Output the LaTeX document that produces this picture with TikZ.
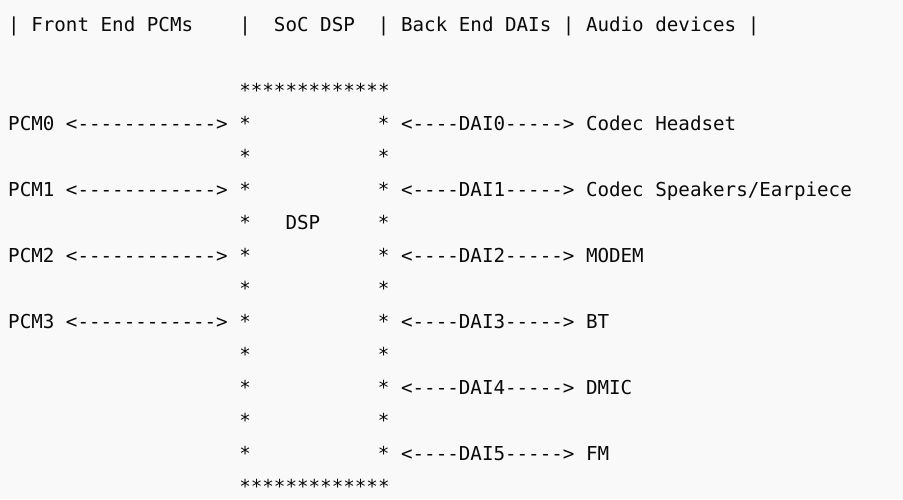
\documentclass[tikz,border=0pt]{standalone}
\usepackage{fontspec}
\setmonofont{DejaVu Sans Mono}
\definecolor{paper}{RGB}{249,249,249}
\definecolor{ink}{RGB}{10,10,10}

\begin{document}
\begin{tikzpicture}[x=11.556pt, y=-33pt,
        txt/.style = {anchor=base west, inner sep=0pt, outer sep=0pt, text=ink,
                      font=\ttfamily\fontsize{19.2}{20}\selectfont}]
        \fill[paper] (-8.2pt,31pt) rectangle (894.8pt,-468pt);
        \useasboundingbox (-8.2pt,31pt) rectangle (894.8pt,-468pt);
        % header row
        \node[txt] (bar0) at (0,0) {|};
        \node[txt] (fe) at (2,0) {Front End PCMs};
        \node[txt] (bar1) at (20,0) {|};
        \node[txt] (soc) at (23,0) {SoC DSP};
        \node[txt] (bar2) at (32,0) {|};
        \node[txt] (be) at (34,0) {Back End DAIs};
        \node[txt] (bar3) at (48,0) {|};
        \node[txt] (dev) at (50,0) {Audio devices};
        \node[txt] (bar4) at (64,0) {|};
        % DSP box made of stars
        \node[txt] (top) at (20,2) {*************};
        \node[txt] (bot) at (20,14) {*************};
        \foreach \r in {3,...,13} {
            \node[txt] (l\r) at (20,\r) {*};
            \node[txt] (r\r) at (32,\r) {*};
        }
        \node[txt] (dsp) at (24,6) {DSP};
        % front end PCMs
        \foreach \i/\r in {0/3, 1/5, 2/7, 3/9} {
            \node[txt] (pcm\i) at (0,\r) {PCM\i};
            \node[txt] (fa\i) at (5,\r) {<------------>};
        }
        % back end DAIs and devices
        \foreach \i/\r/\d in {0/3/{Codec Headset}, 1/5/{Codec Speakers/Earpiece},
                              2/7/MODEM, 3/9/BT, 4/11/DMIC, 5/13/FM} {
            \node[txt] (dai\i) at (34,\r) {<----DAI\i----->};
            \node[txt] (d\i) at (50,\r) {\d};
        }
\end{tikzpicture}
\end{document}
